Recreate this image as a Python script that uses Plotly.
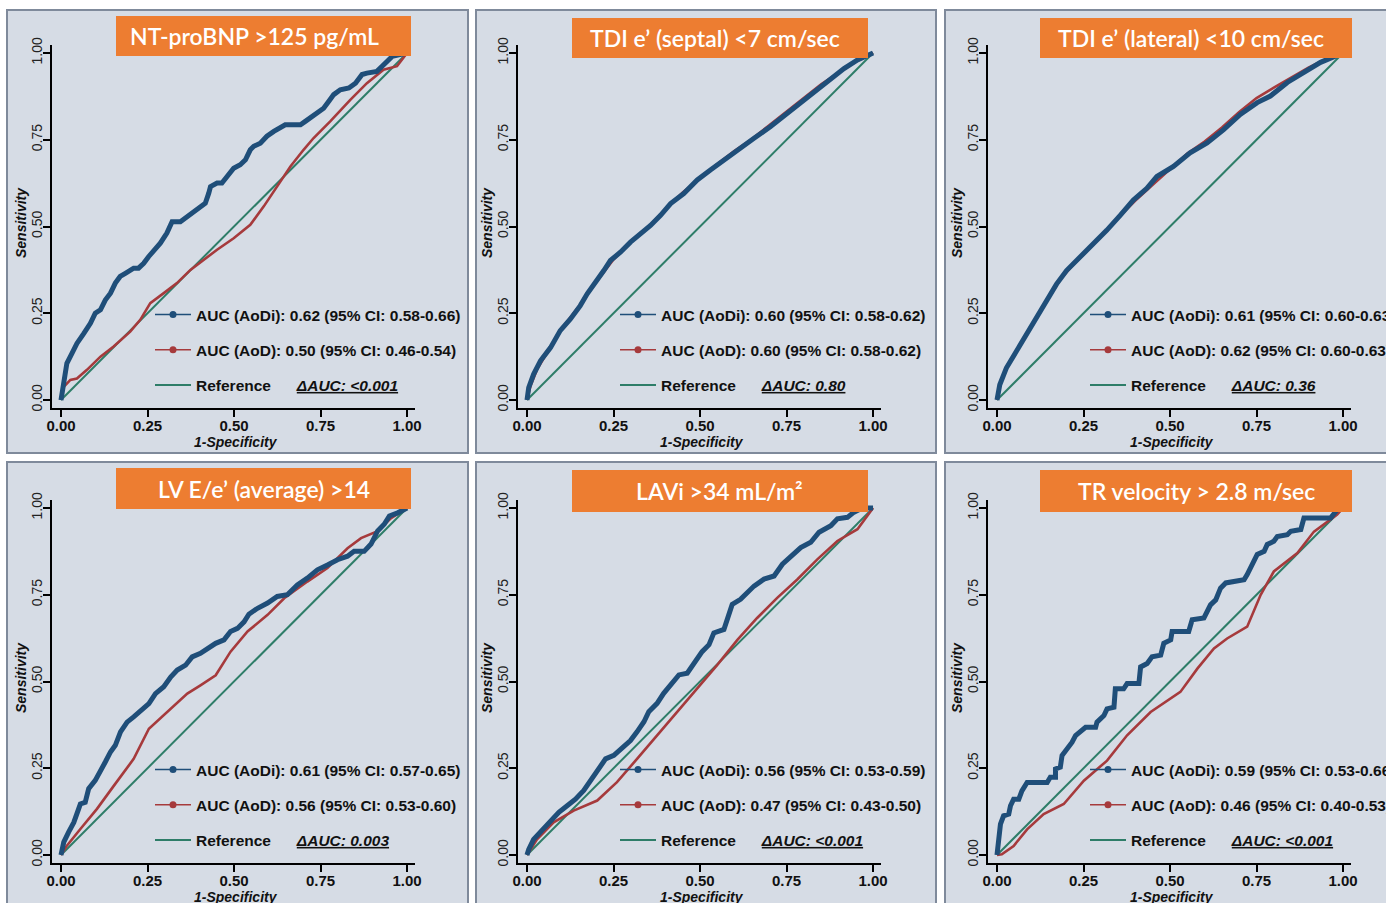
import plotly.graph_objects as go

W, H = 1386, 903

# ---------------- data ----------------
titles = ["NT-proBNP &gt;125 pg/mL", "TDI e’ (septal) &lt;7 cm/sec", "TDI e’ (lateral) &lt;10 cm/sec",
          "LV E/e’ (average) &gt;14", "LAVi &gt;34 mL/m²", "TR velocity &gt; 2.8 m/sec"]

auc_aodi = ["AUC (AoDi): 0.62 (95% CI: 0.58-0.66)", "AUC (AoDi): 0.60 (95% CI: 0.58-0.62)",
            "AUC (AoDi): 0.61 (95% CI: 0.60-0.63)", "AUC (AoDi): 0.61 (95% CI: 0.57-0.65)",
            "AUC (AoDi): 0.56 (95% CI: 0.53-0.59)", "AUC (AoDi): 0.59 (95% CI: 0.53-0.66)"]
auc_aod = ["AUC (AoD): 0.50 (95% CI: 0.46-0.54)", "AUC (AoD): 0.60 (95% CI: 0.58-0.62)",
           "AUC (AoD): 0.62 (95% CI: 0.60-0.63)", "AUC (AoD): 0.56 (95% CI: 0.53-0.60)",
           "AUC (AoD): 0.47 (95% CI: 0.43-0.50)", "AUC (AoD): 0.46 (95% CI: 0.40-0.53)"]
delta_auc = ["ΔAUC: &lt;0.001", "ΔAUC: 0.80", "ΔAUC: 0.36", "ΔAUC: 0.003", "ΔAUC: &lt;0.001", "ΔAUC: &lt;0.001"]

ref_x = [0, 1]
ref_y = [0, 1]

# Panel 1: NT-proBNP
p1_aodi_x = [0, 0.008, 0.017, 0.032, 0.046, 0.066, 0.085, 0.099, 0.114, 0.128, 0.143, 0.157, 0.171, 0.186,
             0.21, 0.224, 0.239, 0.253, 0.268, 0.287, 0.306, 0.321, 0.345, 0.364, 0.383, 0.403, 0.417, 0.427,
             0.432, 0.451, 0.465, 0.48, 0.499, 0.518, 0.533, 0.547, 0.557, 0.576, 0.595, 0.615, 0.634, 0.648,
             0.663, 0.692, 0.706, 0.725, 0.745, 0.759, 0.774, 0.788, 0.807, 0.832, 0.851, 0.87, 0.884, 0.913,
             0.928, 0.947, 0.957, 0.976, 1]
p1_aodi_y = [0, 0.048, 0.106, 0.135, 0.163, 0.192, 0.221, 0.25, 0.26, 0.288, 0.308, 0.337, 0.356, 0.365,
             0.38, 0.38, 0.394, 0.413, 0.428, 0.452, 0.481, 0.514, 0.514, 0.529, 0.543, 0.558, 0.567, 0.596,
             0.615, 0.625, 0.625, 0.644, 0.668, 0.678, 0.692, 0.721, 0.731, 0.74, 0.76, 0.774, 0.784, 0.793,
             0.793, 0.793, 0.803, 0.817, 0.832, 0.841, 0.861, 0.88, 0.894, 0.899, 0.913, 0.938, 0.942, 0.947,
             0.962, 0.981, 0.99, 0.995, 1]
p1_aod_x = [0, 0.008, 0.027, 0.046, 0.075, 0.114, 0.152, 0.2, 0.229, 0.258, 0.297, 0.335, 0.374, 0.412,
            0.451, 0.499, 0.547, 0.586, 0.624, 0.663, 0.701, 0.73, 0.778, 0.836, 0.884, 0.932, 0.971, 1]
p1_aod_y = [0, 0.038, 0.058, 0.062, 0.087, 0.125, 0.154, 0.197, 0.231, 0.279, 0.308, 0.337, 0.375, 0.404,
            0.433, 0.466, 0.505, 0.558, 0.615, 0.673, 0.721, 0.755, 0.803, 0.865, 0.913, 0.952, 0.962, 1]

# Panel 2: TDI e' septal
p2_aodi_x = [0, 0.005, 0.019, 0.039, 0.068, 0.096, 0.125, 0.154, 0.174, 0.203, 0.222, 0.241, 0.27, 0.299,
             0.328, 0.357, 0.386, 0.415, 0.453, 0.492, 0.53, 0.569, 0.607, 0.656, 0.704, 0.752, 0.8, 0.839,
             0.878, 0.916, 0.955, 1]
p2_aodi_y = [0, 0.036, 0.074, 0.113, 0.151, 0.2, 0.233, 0.272, 0.306, 0.344, 0.373, 0.402, 0.426, 0.455,
             0.479, 0.503, 0.532, 0.566, 0.595, 0.634, 0.663, 0.692, 0.721, 0.754, 0.788, 0.826, 0.865, 0.895,
             0.925, 0.955, 0.98, 1]
p2_aod_x = [0, 0.01, 0.03, 0.06, 0.1, 0.15, 0.2, 0.25, 0.3, 0.35, 0.4, 0.45, 0.5, 0.55, 0.6, 0.65, 0.7,
            0.75, 0.8, 0.85, 0.9, 0.95, 1]
p2_aod_y = [0, 0.04, 0.09, 0.14, 0.205, 0.27, 0.34, 0.405, 0.455, 0.498, 0.55, 0.598, 0.64, 0.68, 0.718,
            0.752, 0.792, 0.832, 0.872, 0.91, 0.943, 0.975, 1]

# Panel 3: TDI e' lateral
p3_aodi_x = [0, 0.008, 0.027, 0.056, 0.085, 0.114, 0.143, 0.172, 0.201, 0.24, 0.278, 0.317, 0.356, 0.394,
             0.433, 0.462, 0.51, 0.558, 0.607, 0.655, 0.703, 0.752, 0.79, 0.839, 0.887, 0.935, 1]
p3_aodi_y = [0, 0.044, 0.092, 0.14, 0.189, 0.237, 0.286, 0.334, 0.373, 0.411, 0.45, 0.489, 0.532, 0.576,
             0.61, 0.644, 0.673, 0.712, 0.741, 0.779, 0.823, 0.857, 0.876, 0.915, 0.944, 0.973, 1]
p3_aod_x = [0, 0.01, 0.03, 0.06, 0.1, 0.14, 0.185, 0.22, 0.26, 0.3, 0.35, 0.4, 0.45, 0.5, 0.55, 0.6, 0.65,
            0.7, 0.75, 0.8, 0.85, 0.9, 0.95, 1]
p3_aod_y = [0, 0.05, 0.1, 0.15, 0.215, 0.28, 0.35, 0.39, 0.43, 0.47, 0.525, 0.575, 0.62, 0.665, 0.71,
            0.745, 0.785, 0.83, 0.87, 0.9, 0.93, 0.958, 0.982, 1]

# Panel 4: LV E/e' average
p4_aodi_x = [0, 0.008, 0.022, 0.037, 0.051, 0.056, 0.07, 0.08, 0.099, 0.114, 0.128, 0.143, 0.157, 0.172,
             0.191, 0.21, 0.23, 0.254, 0.273, 0.297, 0.317, 0.336, 0.36, 0.379, 0.403, 0.423, 0.447, 0.471,
             0.49, 0.51, 0.529, 0.543, 0.568, 0.597, 0.625, 0.654, 0.683, 0.712, 0.741, 0.77, 0.799, 0.828,
             0.847, 0.876, 0.896, 0.915, 0.934, 0.949, 0.973, 1]
p4_aodi_y = [0, 0.037, 0.066, 0.094, 0.133, 0.147, 0.152, 0.191, 0.215, 0.239, 0.268, 0.297, 0.316, 0.355,
             0.383, 0.398, 0.417, 0.436, 0.465, 0.485, 0.513, 0.533, 0.547, 0.571, 0.581, 0.595, 0.61, 0.62,
             0.644, 0.653, 0.672, 0.694, 0.711, 0.726, 0.745, 0.75, 0.778, 0.798, 0.822, 0.836, 0.851, 0.861,
             0.875, 0.875, 0.896, 0.934, 0.953, 0.977, 0.986, 1]
p4_aod_x = [0, 0.017, 0.056, 0.104, 0.153, 0.21, 0.254, 0.307, 0.365, 0.403, 0.447, 0.49, 0.539, 0.597,
            0.645, 0.712, 0.77, 0.828, 0.867, 0.915, 0.954, 1]
p4_aod_y = [0, 0.027, 0.075, 0.133, 0.2, 0.277, 0.364, 0.412, 0.465, 0.489, 0.518, 0.586, 0.644, 0.692,
            0.74, 0.788, 0.827, 0.884, 0.913, 0.933, 0.971, 1]

# Panel 5: LAVi
p5_aodi_x = [0, 0.005, 0.019, 0.043, 0.068, 0.092, 0.116, 0.14, 0.164, 0.183, 0.207, 0.227, 0.251, 0.275,
             0.299, 0.318, 0.338, 0.352, 0.376, 0.395, 0.415, 0.439, 0.463, 0.487, 0.506, 0.526, 0.54, 0.569,
             0.593, 0.617, 0.636, 0.656, 0.685, 0.714, 0.738, 0.762, 0.791, 0.82, 0.844, 0.878, 0.897, 0.926,
             0.945, 0.969, 1]
p5_aodi_y = [0, 0.016, 0.045, 0.07, 0.094, 0.123, 0.142, 0.161, 0.186, 0.214, 0.248, 0.277, 0.287, 0.311,
             0.33, 0.355, 0.384, 0.413, 0.437, 0.466, 0.49, 0.519, 0.524, 0.558, 0.586, 0.606, 0.64, 0.65,
             0.722, 0.737, 0.756, 0.775, 0.795, 0.804, 0.838, 0.862, 0.886, 0.901, 0.93, 0.949, 0.969, 0.973,
             0.988, 1, 1]
p5_aod_x = [0, 0.029, 0.077, 0.135, 0.203, 0.26, 0.318, 0.376, 0.434, 0.492, 0.55, 0.608, 0.665, 0.723,
            0.781, 0.839, 0.897, 0.955, 1]
p5_aod_y = [0, 0.045, 0.094, 0.128, 0.157, 0.21, 0.277, 0.345, 0.413, 0.48, 0.548, 0.62, 0.683, 0.741,
            0.794, 0.852, 0.905, 0.939, 1]

# Panel 6: TR velocity
p6_aodi_x = [0, 0.002, 0.005, 0.01, 0.019, 0.034, 0.039, 0.048, 0.063, 0.072, 0.087, 0.125, 0.145, 0.154,
             0.169, 0.169, 0.183, 0.188, 0.203, 0.217, 0.227, 0.241, 0.256, 0.285, 0.289, 0.309, 0.318, 0.338,
             0.342, 0.366, 0.376, 0.41, 0.415, 0.434, 0.448, 0.473, 0.482, 0.502, 0.506, 0.554, 0.564, 0.598,
             0.608, 0.617, 0.632, 0.646, 0.661, 0.694, 0.714, 0.723, 0.738, 0.752, 0.772, 0.781, 0.8, 0.81,
             0.839, 0.849, 0.878, 0.887, 0.964, 0.983, 1]
p6_aodi_y = [0, 0.026, 0.065, 0.089, 0.113, 0.118, 0.142, 0.161, 0.161, 0.185, 0.209, 0.209, 0.209, 0.224,
             0.224, 0.248, 0.253, 0.287, 0.306, 0.325, 0.344, 0.354, 0.368, 0.368, 0.383, 0.402, 0.421, 0.426,
             0.479, 0.479, 0.494, 0.494, 0.542, 0.552, 0.571, 0.576, 0.61, 0.62, 0.644, 0.644, 0.678, 0.683,
             0.702, 0.721, 0.735, 0.769, 0.784, 0.788, 0.793, 0.808, 0.837, 0.866, 0.875, 0.895, 0.904, 0.918,
             0.923, 0.933, 0.938, 0.971, 0.971, 0.995, 1]
p6_aod_x = [0, 0.014, 0.048, 0.087, 0.135, 0.193, 0.251, 0.318, 0.376, 0.444, 0.53, 0.579, 0.627, 0.665,
            0.723, 0.762, 0.8, 0.868, 0.916, 0.964, 0.983, 1]
p6_aod_y = [0, 0.002, 0.026, 0.074, 0.118, 0.147, 0.214, 0.272, 0.345, 0.412, 0.47, 0.537, 0.595, 0.624,
            0.658, 0.75, 0.817, 0.87, 0.932, 0.966, 0.981, 1]

aodi_x = [p1_aodi_x, p2_aodi_x, p3_aodi_x, p4_aodi_x, p5_aodi_x, p6_aodi_x]
aodi_y = [p1_aodi_y, p2_aodi_y, p3_aodi_y, p4_aodi_y, p5_aodi_y, p6_aodi_y]
aod_x = [p1_aod_x, p2_aod_x, p3_aod_x, p4_aod_x, p5_aod_x, p6_aod_x]
aod_y = [p1_aod_y, p2_aod_y, p3_aod_y, p4_aod_y, p5_aod_y, p6_aod_y]

tick_vals = [0, 0.25, 0.5, 0.75, 1]
tick_text = ["0.00", "0.25", "0.50", "0.75", "1.00"]

# ---------------- styling / layout ----------------
BLUE = "#1f4e79"
RED = "#a63a3c"
GREEN = "#2e7d68"
PANEL_BG = "#d6dce5"
ORANGE = "#ed7d31"
FONT = "Liberation Sans, Arial, sans-serif"

col_ax = [52, 518, 988]
row_top = [45, 500]
legend_x = [150, 615, 1085]
legend_row1 = [313, 768]
panel_boxes = [(7, 10, 468, 453), (476, 10, 936, 453), (945, 10, 1400, 453),
               (7, 462, 468, 920), (476, 462, 936, 920), (945, 462, 1400, 920)]
title_boxes = [(116, 16, 411, 56), (572, 18, 868, 58), (1040, 18, 1352, 58),
               (116, 468, 411, 509), (572, 470, 868, 512), (1040, 470, 1352, 512)]
title_cx = [254, 715, 1191, 264, 720, 1196]


def px(x):
    return x / W


def py(y):
    return 1 - y / H


fig = go.Figure()
layout = dict(width=W, height=H, margin=dict(l=0, r=0, t=0, b=0, autoexpand=False),
              paper_bgcolor="white", plot_bgcolor=PANEL_BG, showlegend=True)
shapes = []
annotations = []

for i in range(6):
    r, c = divmod(i, 3)
    ax = col_ax[c]
    T = row_top[r]
    n = "" if i == 0 else str(i + 1)
    xa, ya = "x" + n, "y" + n
    leg = "legend" if i == 0 else "legend" + str(i + 1)

    # reference diagonal (legend entry 3)
    fig.add_trace(go.Scatter(x=ref_x, y=ref_y, mode="lines", xaxis=xa, yaxis=ya,
                             line=dict(color=GREEN, width=2), legend=leg, legendrank=3,
                             legendgroup="ref%d" % i,
                             name="Reference" + "\u00a0" * 6 + "<i><u>" + delta_auc[i] + "</u></i>"))
    # AoD curve
    fig.add_trace(go.Scatter(x=aod_x[i], y=aod_y[i], mode="lines", xaxis=xa, yaxis=ya,
                             line=dict(color=RED, width=2.6), showlegend=False))
    # AoDi curve
    fig.add_trace(go.Scatter(x=aodi_x[i], y=aodi_y[i], mode="lines", xaxis=xa, yaxis=ya,
                             line=dict(color=BLUE, width=5), showlegend=False))
    # legend keys
    fig.add_trace(go.Scatter(x=[None], y=[None], mode="lines+markers", xaxis=xa, yaxis=ya,
                             line=dict(color=BLUE, width=1.5), marker=dict(color=BLUE, size=7),
                             legend=leg, legendrank=1, legendgroup="a%d" % i, name=auc_aodi[i]))
    fig.add_trace(go.Scatter(x=[None], y=[None], mode="lines+markers", xaxis=xa, yaxis=ya,
                             line=dict(color=RED, width=1.5), marker=dict(color=RED, size=7),
                             legend=leg, legendrank=2, legendgroup="b%d" % i, name=auc_aod[i]))

    common = dict(showgrid=False, zeroline=False, showline=True, linecolor="black", linewidth=2.2,
                  ticks="outside", ticklen=7, tickwidth=2, tickcolor="black",
                  tickvals=tick_vals, ticktext=tick_text, automargin=False)
    layout["xaxis" + n] = dict(domain=[px(ax), px(ax + 363)], range=[-0.026, 1.023], anchor=ya,
                               ticklabelstandoff=-4,
                               tickfont=dict(family=FONT, size=15, color="#111", weight="bold"),
                               **common)
    layout["yaxis" + n] = dict(domain=[py(T + 363), py(T)], range=[-0.023, 1.023], anchor=xa,
                               tickangle=-90, ticklabelstandoff=-5,
                               tickfont=dict(family=FONT, size=14, color="#222"), **common)

    layout[leg] = dict(x=px(legend_x[c]), y=py(legend_row1[r] - 15), xanchor="left", yanchor="top",
                       bgcolor="rgba(0,0,0,0)", borderwidth=0, tracegroupgap=12, itemwidth=36,
                       font=dict(family=FONT, size=15.5, color="#111", weight="bold"))

    x0, y0, x1, y1 = panel_boxes[i]
    shapes.append(dict(type="rect", xref="paper", yref="paper", x0=px(x0), x1=px(x1), y0=py(y1), y1=py(y0),
                       fillcolor=PANEL_BG, line=dict(color="#7f8a9b", width=2), layer="below"))
    x0, y0, x1, y1 = title_boxes[i]
    shapes.append(dict(type="rect", xref="paper", yref="paper", x0=px(x0), x1=px(x1), y0=py(y1), y1=py(y0),
                       fillcolor=ORANGE, line=dict(width=0), layer="above"))
    annotations.append(dict(xref="paper", yref="paper", x=px(title_cx[i]), y=py((y0 + y1) / 2),
                            text=titles[i], showarrow=False, xanchor="center", yanchor="middle",
                            font=dict(family="Lato, Open Sans, sans-serif", size=23, weight=600,
                                      color="white")))
    annotations.append(dict(xref="paper", yref="paper", x=px(ax - 31), y=py(T + 178), text="Sensitivity",
                            textangle=-90, showarrow=False, xanchor="center", yanchor="middle",
                            font=dict(family=FONT, size=14, color="#111", style="italic", weight="bold")))
    annotations.append(dict(xref="paper", yref="paper", x=px(ax + 184), y=py(T + 397), text="1-Specificity",
                            showarrow=False, xanchor="center", yanchor="middle",
                            font=dict(family=FONT, size=14, color="#111", style="italic", weight="bold")))

layout["shapes"] = shapes
layout["annotations"] = annotations
fig.update_layout(**layout)
fig.write_html("out.html", config={"displayModeBar": False},
               post_script="document.body.style.margin='0';document.body.style.overflow='hidden';")
